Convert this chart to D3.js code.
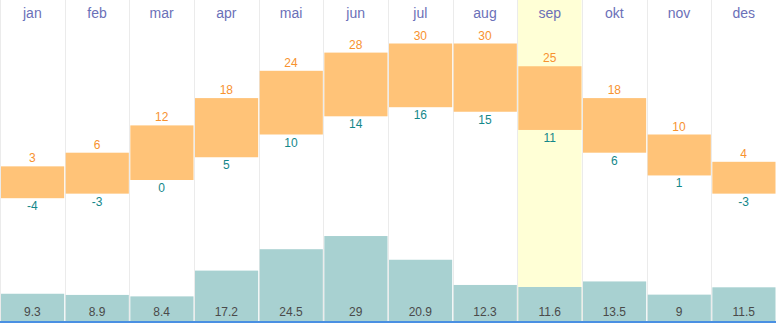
<!DOCTYPE html>
<html>
<head>
<meta charset="utf-8">
<script src="https://cdn.jsdelivr.net/npm/d3@7"></script>
<style>
  html, body { margin: 0; padding: 0; background: #fff; }
  svg { display: block; font-family: Arial, "Liberation Sans", sans-serif; }
</style>
</head>
<body>
<svg id="chart" width="776" height="323"></svg>
<script>
// Monthly climate: high/low temperature (°C) and precipitation (mm)
const months = ["jan", "feb", "mar", "apr", "mai", "jun", "jul", "aug", "sep", "okt", "nov", "des"];
const highs = [3, 6, 12, 18, 24, 28, 30, 30, 25, 18, 10, 4];
const lows = [-4, -3, 0, 5, 10, 14, 16, 15, 11, 6, 1, -3];
const precip = [9.3, 8.9, 8.4, 17.2, 24.5, 29, 20.9, 12.3, 11.6, 13.5, 9, 11.5];
const highlightMonth = "sep";

const W = 776, H = 323;
const svg = d3.select("#chart");

const x = d3.scaleBand().domain(months).range([0, W]).padding(0);
// temperature: 0 °C sits at y=180, 4.55 px per degree
const yT = d3.scaleLinear().domain([0, 30]).range([180, 180 - 30 * 4.55]);
// precipitation grows upward from the baseline
const baseY = 321;
const yP = d3.scaleLinear().domain([0, 29]).range([baseY, baseY - 29 * 2.93]);

// highlighted month column
svg.append("rect")
  .attr("x", x(highlightMonth) + 0.5)
  .attr("y", 0)
  .attr("width", x.bandwidth() - 1)
  .attr("height", baseY)
  .attr("fill", "#ffffd6");

// column separators
svg.append("g").selectAll("line")
  .data(d3.range(months.length + 1))
  .join("line")
  .attr("x1", i => Math.round(i * x.step()) + 0.5)
  .attr("x2", i => Math.round(i * x.step()) + 0.5)
  .attr("y1", 0).attr("y2", H)
  .attr("stroke", "#ebebeb").attr("stroke-width", 1);

// month labels
svg.append("g").selectAll("text")
  .data(months)
  .join("text")
  .attr("x", d => x(d) + x.bandwidth() / 2)
  .attr("y", 18)
  .attr("text-anchor", "middle")
  .attr("font-size", 14)
  .attr("fill", "#6b70b8")
  .text(d => d);

// temperature range bars
const temp = months.map((m, i) => ({ m, hi: highs[i], lo: lows[i], p: precip[i] }));
svg.append("g").selectAll("rect")
  .data(temp)
  .join("rect")
  .attr("x", d => x(d.m) + 1)
  .attr("width", x.bandwidth() - 1.5)
  .attr("y", d => yT(d.hi))
  .attr("height", d => yT(d.lo) - yT(d.hi))
  .attr("fill", "#ffc378");

svg.append("g").selectAll("text")
  .data(temp)
  .join("text")
  .attr("x", d => x(d.m) + x.bandwidth() / 2)
  .attr("y", d => yT(d.hi) - 4)
  .attr("text-anchor", "middle")
  .attr("font-size", 12)
  .attr("fill", "#f7922f")
  .text(d => d.hi);

svg.append("g").selectAll("text")
  .data(temp)
  .join("text")
  .attr("x", d => x(d.m) + x.bandwidth() / 2)
  .attr("y", d => yT(d.lo) + 12)
  .attr("text-anchor", "middle")
  .attr("font-size", 12)
  .attr("fill", "#13878a")
  .text(d => d.lo);

// precipitation bars
svg.append("g").selectAll("rect")
  .data(temp)
  .join("rect")
  .attr("x", d => x(d.m) + 1)
  .attr("width", x.bandwidth() - 1.5)
  .attr("y", d => yP(d.p))
  .attr("height", d => baseY - yP(d.p))
  .attr("fill", "#a8d1d1");

svg.append("g").selectAll("text")
  .data(temp)
  .join("text")
  .attr("x", d => x(d.m) + x.bandwidth() / 2)
  .attr("y", 316)
  .attr("text-anchor", "middle")
  .attr("font-size", 12)
  .attr("fill", "#4a4a4a")
  .text(d => d.p);

// bottom rule
svg.append("rect")
  .attr("x", 0).attr("y", baseY)
  .attr("width", W).attr("height", 2)
  .attr("fill", "#4a90e2");
</script>
</body>
</html>
